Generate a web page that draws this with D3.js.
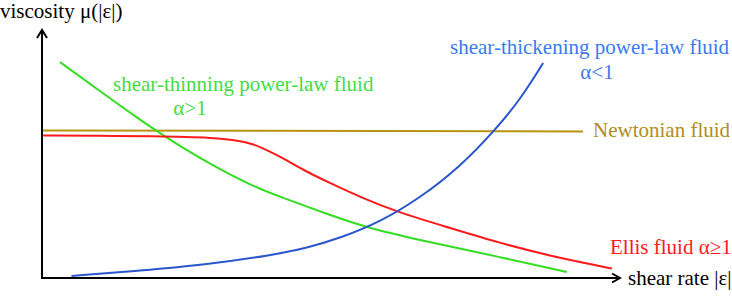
<!DOCTYPE html>
<html>
<head>
<meta charset="utf-8">
<script src="https://cdn.jsdelivr.net/npm/d3@7"></script>
<style>
  body { margin: 0; background: #fff; }
  svg text { font-family: "Liberation Serif", "DejaVu Serif", serif; font-size: 21px; }
</style>
</head>
<body>
<div id="chart"></div>
<script>
// curve data, arbitrary units (shear rate 0..10, viscosity 0..10)
const newtonian = [[0.02, 5.95], [9.36, 5.91]];

const ellis = [
  [0.02, 5.75], [1.0, 5.73], [1.87, 5.72], [3.03, 5.66], [3.43, 5.52], [3.65, 5.4],
  [3.82, 5.24], [4.17, 4.84], [4.52, 4.35], [4.98, 3.83], [5.5, 3.27], [6.14, 2.66],
  [7.06, 2.02], [7.92, 1.41], [8.79, 0.89], [9.65, 0.48], [9.86, 0.38]
];

const thinning = [
  [0.31, 8.71], [1.0, 7.54], [1.7, 6.37], [2.04, 5.85], [2.44, 5.24], [3.03, 4.44],
  [3.6, 3.75], [4.17, 3.23], [4.98, 2.54], [5.62, 2.02], [6.76, 1.41], [7.92, 0.85],
  [9.08, 0.24]
];

const thickening = [
  [0.51, 0.08], [1.7, 0.3], [2.85, 0.54], [4.0, 0.93], [4.58, 1.21], [5.16, 1.61],
  [5.85, 2.26], [6.54, 3.23], [7.23, 4.48], [7.84, 5.97], [8.27, 7.18], [8.67, 8.67]
];

const width = 732, height = 306;
const x = d3.scaleLinear().domain([0, 10]).range([42, 620]);
const y = d3.scaleLinear().domain([0, 10]).range([278, 30]);

const svg = d3.select('#chart').append('svg')
  .attr('width', width)
  .attr('height', height);

// axes with arrowheads
const axes = svg.append('g').attr('stroke', '#000').attr('stroke-width', 2).attr('fill', 'none');
axes.append('line').attr('x1', x(0)).attr('y1', y(0)).attr('x2', x(0)).attr('y2', y(10) + 1);
axes.append('line').attr('x1', x(0) - 1).attr('y1', y(0)).attr('x2', x(10) - 1).attr('y2', y(0));
axes.append('path')
  .attr('d', `M${x(0) - 5},${y(10) + 8} L${x(0)},${y(10)} L${x(0) + 5},${y(10) + 8}`);
axes.append('path')
  .attr('d', `M${x(10) - 8},${y(0) - 4.5} L${x(10)},${y(0)} L${x(10) - 8},${y(0) + 4.5}`);

const line = d3.line()
  .x(d => x(d[0]))
  .y(d => y(d[1]))
  .curve(d3.curveBasis);

const series = [
  { data: newtonian, color: '#b8930f' },
  { data: thinning, color: '#33dd22' },
  { data: ellis, color: '#ff1a1a' },
  { data: thickening, color: '#2a55cc' },
];

svg.append('g').selectAll('path')
  .data(series)
  .join('path')
  .attr('d', d => line(d.data))
  .attr('fill', 'none')
  .attr('stroke', d => d.color)
  .attr('stroke-width', 2);

// labels
const labels = [
  { text: 'viscosity μ(|ε|)', x: 0, y: 18, color: '#000', anchor: 'start' },
  { text: 'shear rate |ε|', x: 628, y: 285, color: '#000', anchor: 'start' },
  { text: 'shear-thinning power-law fluid', x: 113, y: 91, color: '#44dd44', anchor: 'start' },
  { text: 'α>1', x: 190, y: 115, color: '#44dd44', anchor: 'middle' },
  { text: 'shear-thickening power-law fluid', x: 450, y: 54, color: '#3a7aee', anchor: 'start' },
  { text: 'α<1', x: 597, y: 79, color: '#3a7aee', anchor: 'middle' },
  { text: 'Newtonian fluid', x: 593, y: 137, color: '#b08d1c', anchor: 'start' },
  { text: 'Ellis fluid α≥1', x: 610, y: 254, color: '#ff1a1a', anchor: 'start' },
];

svg.append('g').selectAll('text')
  .data(labels)
  .join('text')
  .attr('x', d => d.x)
  .attr('y', d => d.y)
  .attr('fill', d => d.color)
  .attr('text-anchor', d => d.anchor)
  .text(d => d.text);
</script>
</body>
</html>
